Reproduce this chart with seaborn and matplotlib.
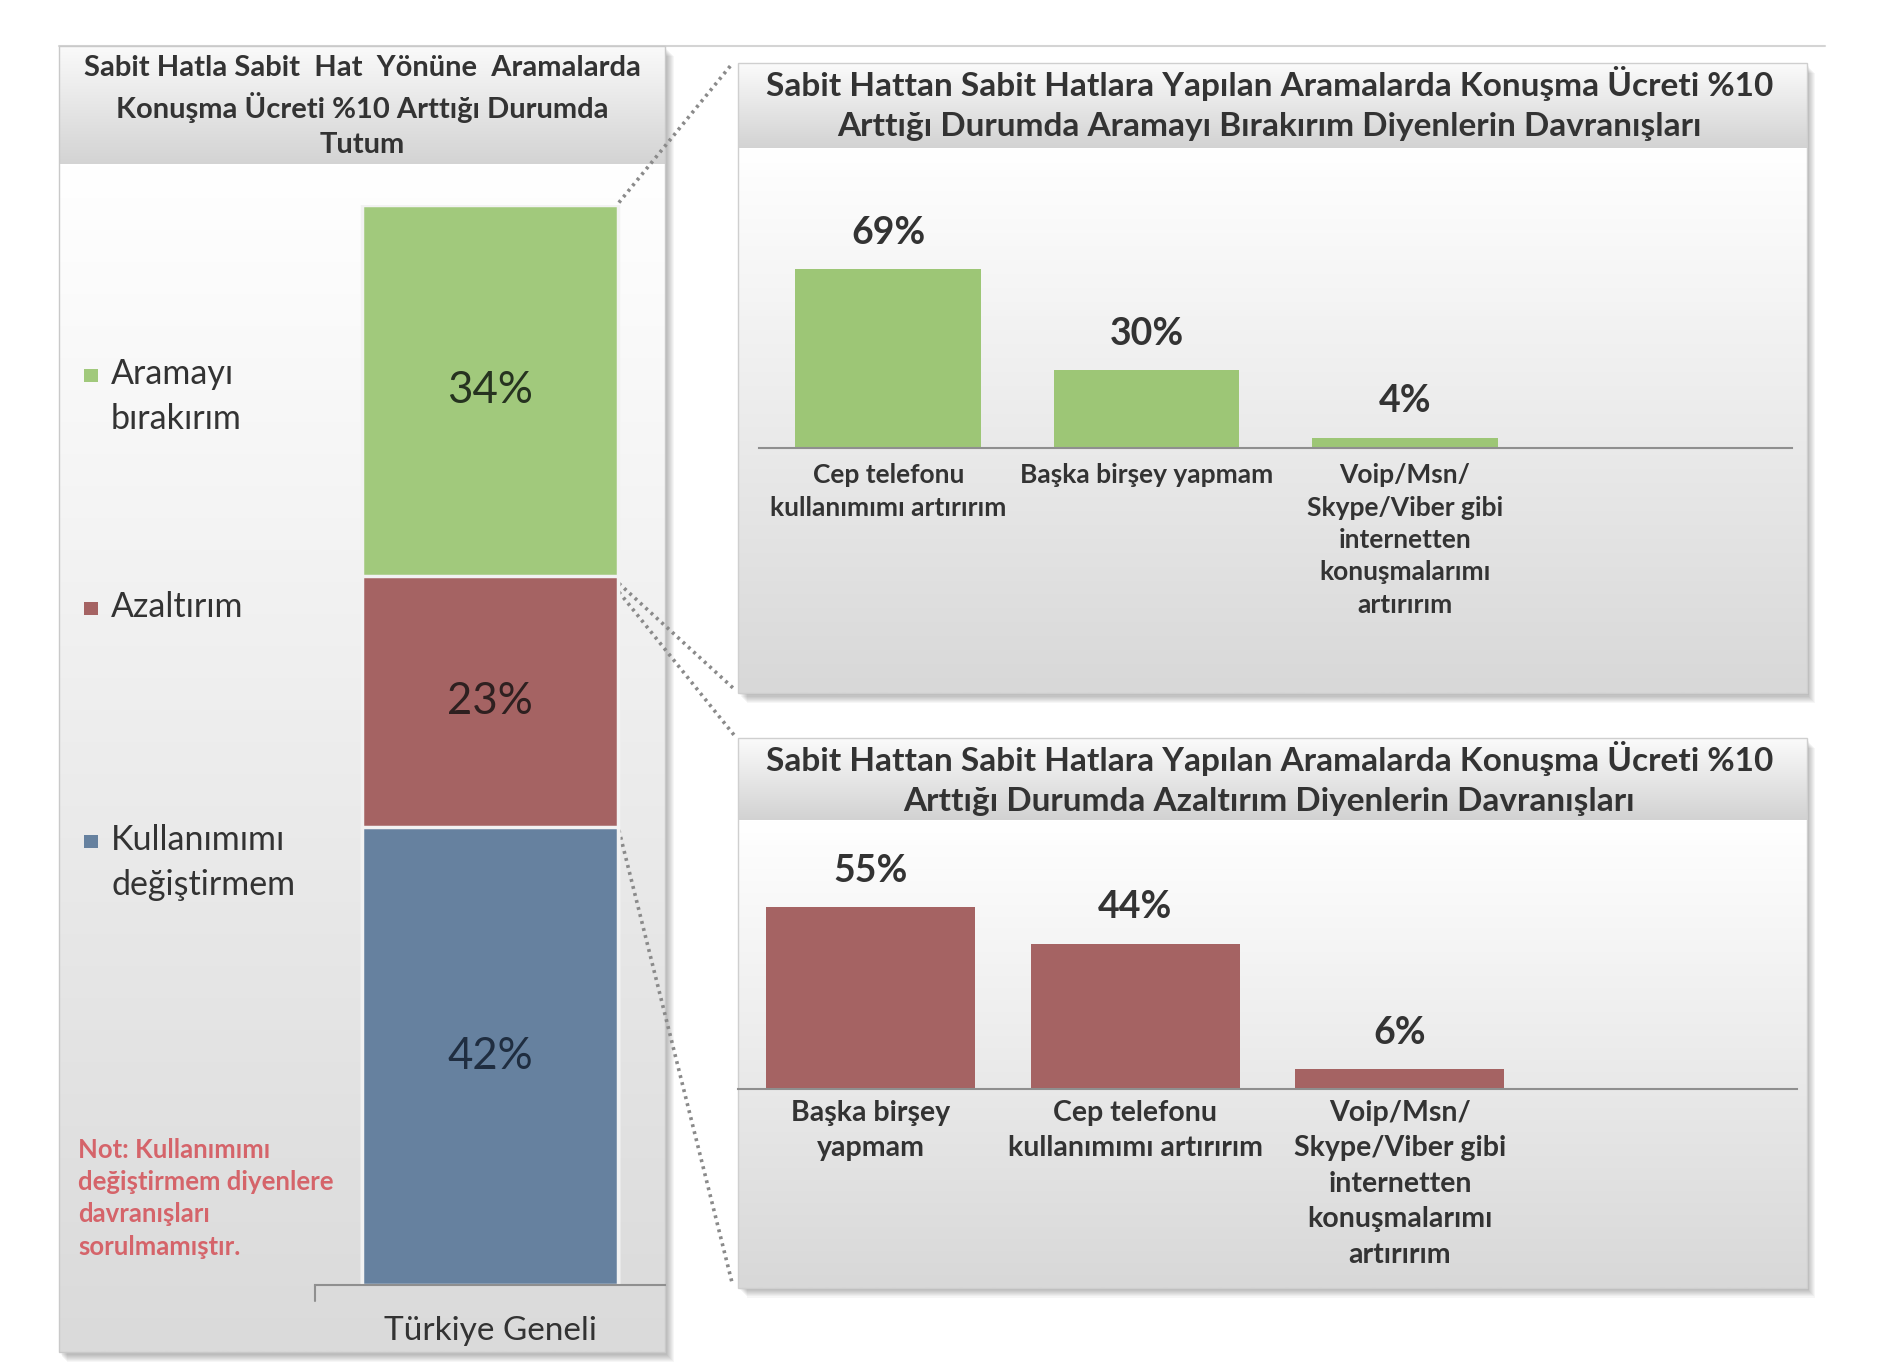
import numpy as np
import pandas as pd
import matplotlib
matplotlib.use("Agg")
import matplotlib.pyplot as plt
import matplotlib.colors as mcolors
from matplotlib.patches import Rectangle
from matplotlib.lines import Line2D
import seaborn as sns

# ---------------- data ----------------
left_title = "Sabit Hatla Sabit  Hat  Yönüne  Aramalarda\nKonuşma Ücreti %10 Arttığı Durumda\nTutum"
left_category = ["Türkiye Geneli"]
left_series = ["Aramayı\nbırakırım", "Azaltırım", "Kullanımımı\ndeğiştirmem"]
left_values = [34, 23, 42]          # top -> bottom of the stack
left_note = "Not: Kullanımımı\ndeğiştirmem diyenlere\ndavranışları\nsorulmamıştır."

top_title = ("Sabit Hattan Sabit Hatlara Yapılan Aramalarda Konuşma Ücreti %10\n"
             "Arttığı Durumda Aramayı Bırakırım Diyenlerin Davranışları")
top_categories = ["Cep telefonu\nkullanımımı artırırım",
                  "Başka birşey yapmam",
                  "Voip/Msn/\nSkype/Viber gibi\ninternetten\nkonuşmalarımı\nartırırım"]
top_values = [69, 30, 4]

bottom_title = ("Sabit Hattan Sabit Hatlara Yapılan Aramalarda Konuşma Ücreti %10\n"
                "Arttığı Durumda Azaltırım Diyenlerin Davranışları")
bottom_categories = ["Başka birşey\nyapmam",
                     "Cep telefonu\nkullanımımı artırırım",
                     "Voip/Msn/\nSkype/Viber gibi\ninternetten\nkonuşmalarımı\nartırırım"]
bottom_values = [55, 44, 6]

# ---------------- style ----------------
GREEN = "#A1C97C"
GREEN2 = "#9DC676"
RED = "#A56363"
BLUE = "#66819F"
TXT = "#333333"

sns.set_theme(style="white")
plt.rcParams["font.family"] = ["Lato", "DejaVu Sans"]

W, H = 1550.0, 1121.6
fig = plt.figure(figsize=(18.92, 13.69), dpi=100)
fig.patch.set_facecolor("white")


def rect(x0, y0, x1, y1):
    return [x0 / W, 1 - y1 / H, (x1 - x0) / W, (y1 - y0) / H]


bg = fig.add_axes([0, 0, 1, 1])
bg.set_axis_off()
bg.set_autoscale_on(False)
bg.set_xlim(0, W)
bg.set_ylim(H, 0)


def vgrad(x0, y0, x1, y1, c0, c1, z=1):
    a = np.array(mcolors.to_rgb(c0))
    b = np.array(mcolors.to_rgb(c1))
    t = np.linspace(0, 1, 256)[:, None, None]
    img = a + (b - a) * t
    bg.imshow(img, extent=(x0, x1, y1, y0), origin="upper", aspect="auto",
              zorder=z, interpolation="bilinear")


def shadow(x0, y0, x1, y1):
    for i in range(1, 10):
        bg.add_patch(Rectangle((x0 + i * 0.8, y0 + i * 0.9), x1 - x0, y1 - y0,
                               facecolor="black", alpha=0.035, lw=0, zorder=0.5))


# outer top line
bg.add_line(Line2D([48, 1495], [38, 38], color="#d4d4d4", lw=1.5, zorder=0.4))

# ---- left panel background ----
shadow(48, 38, 545, 1108)
vgrad(48, 38, 545, 135, "#fafafa", "#d3d3d3")
vgrad(48, 135, 545, 1108, "#ffffff", "#dadada")
bg.add_patch(Rectangle((48, 38), 497, 1070, fill=False, ec="#c9c9c9", lw=1, zorder=2))

# ---- right panels background ----
for (x0, y0, x1, yh, y1) in [(605, 52, 1480, 122, 568), (605, 605, 1480, 672, 1055)]:
    shadow(x0, y0, x1, y1)
    vgrad(x0, y0, x1, yh, "#fbfbfb", "#d2d2d2")
    vgrad(x0, yh, x1, y1, "#ffffff", "#d8d8d8")
    bg.add_patch(Rectangle((x0, y0), x1 - x0, y1 - y0, fill=False, ec="#cfcfcf", lw=1, zorder=2))

# ---- dotted connectors ----
for (xa, ya, xb, yb) in [(507, 166, 600, 52), (507, 478, 602, 565),
                         (507, 485, 602, 603), (507, 680, 600, 1052)]:
    bg.add_line(Line2D([xa, xb], [ya, yb], color="#8a8a8a", lw=2.6,
                       linestyle=(0, (0.8, 1.2)), zorder=3))

# ---- titles ----
bg.text(297, 87, left_title, ha="center", va="center", fontsize=21,
        fontweight="bold", color=TXT, linespacing=1.42, zorder=4)
bg.text(1040, 85, top_title, ha="center", va="center", fontsize=24,
        fontweight="bold", color=TXT, linespacing=1.45, zorder=4)
bg.text(1040, 638, bottom_title, ha="center", va="center", fontsize=24,
        fontweight="bold", color=TXT, linespacing=1.45, zorder=4)

# ---- legend (left) ----
leg_colors = [GREEN, RED, BLUE]
leg_y = [308, 499, 690]
for lab, c, y in zip(left_series, leg_colors, leg_y):
    bg.add_patch(Rectangle((69, y - 6), 11, 11, facecolor=c, lw=0, zorder=4))
    bg.text(91, y - 15, lab, ha="left", va="top", fontsize=24.5, color=TXT,
            linespacing=1.52, zorder=4)

# ---- note ----
bg.text(64, 932, left_note, ha="left", va="top", fontsize=18.5, fontweight="bold",
        color="#D5646A", linespacing=1.42, zorder=4)

# ---- left stacked bar ----
axl = fig.add_axes(rect(258, 168, 545, 1053))
axl.patch.set_alpha(0)
stack_vals = left_values[::-1]                 # bottom -> top
stack_cols = [BLUE, RED, GREEN]
cum = np.cumsum(stack_vals)
for h, c in zip(cum[::-1], stack_cols[::-1]):  # draw tallest first
    sns.barplot(x=left_category, y=[h], color=c, width=0.73, ax=axl,
                edgecolor="#f2f2f2", linewidth=2.5, saturation=1)
lab_cols = ["#1f2d40", "#2e2020", "#263320"]
for h0, v, tc in zip(np.concatenate([[0], cum[:-1]]), stack_vals, lab_cols):
    axl.text(0, h0 + v / 2, f"{v}%", ha="center", va="center", fontsize=31.5,
             color=tc)
axl.set_xlim(-0.5, 0.5)
axl.set_ylim(0, cum[-1])
axl.set_yticks([])
axl.set_ylabel("")
sns.despine(ax=axl, left=True, top=True, right=True)
axl.spines["bottom"].set_color("#8f8f8f")
axl.spines["bottom"].set_linewidth(1.5)
axl.tick_params(axis="x", length=0, pad=22, labelsize=24, labelcolor=TXT)
bg.add_line(Line2D([258, 258], [1053, 1066], color="#8f8f8f", lw=1.5, zorder=4))


def small_bars(ax, cats, vals, color, width, ytop, labfs, pad, ls):
    df = pd.DataFrame({"cat": cats, "val": vals})
    sns.barplot(data=df, x="cat", y="val", color=color, width=width, ax=ax,
                saturation=1, edgecolor=color, linewidth=0)
    for i, v in enumerate(vals):
        ax.annotate(f"{v}%", (i, v), xytext=(0, 14), textcoords="offset points",
                    ha="center", va="bottom", fontsize=27, fontweight="bold",
                    color=TXT)
    ax.set_xlim(-0.5, 3.5)
    ax.set_ylim(0, ytop)
    ax.set_yticks([])
    ax.set_xlabel("")
    ax.set_ylabel("")
    ax.patch.set_alpha(0)
    sns.despine(ax=ax, left=True, top=True, right=True)
    ax.spines["bottom"].set_color("#8f8f8f")
    ax.spines["bottom"].set_linewidth(1.5)
    ax.tick_params(axis="x", length=0, pad=pad, labelsize=labfs, labelcolor=TXT)
    for t in ax.get_xticklabels():
        t.set_fontweight("bold")
        t.set_linespacing(ls)


axt = fig.add_axes(rect(622, 140, 1468, 367))
small_bars(axt, top_categories, top_values, GREEN2, 0.72, (367 - 140) / 2.12, 19, 11, 1.42)

axb = fig.add_axes(rect(605, 690, 1472, 892))
small_bars(axb, bottom_categories, bottom_values, RED, 0.79, (892 - 690) / 2.70, 20.5, 8, 1.45)

fig.savefig("out.png", dpi=100, facecolor="white")
